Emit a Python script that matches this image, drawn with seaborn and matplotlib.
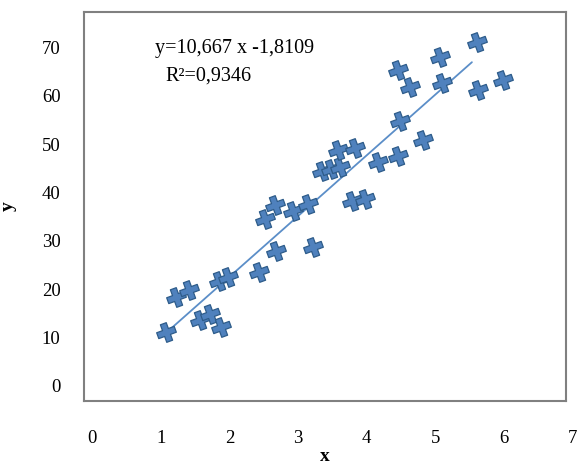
import numpy as np
import pandas as pd
import matplotlib
matplotlib.use("Agg")
import matplotlib.pyplot as plt
from matplotlib.markers import MarkerStyle
from matplotlib.transforms import Affine2D
import seaborn as sns

sns.set_style("white")
plt.rcParams['font.family'] = ['Liberation Serif', 'DejaVu Serif']
plt.rcParams['text.color'] = 'black'
plt.rcParams['axes.labelcolor'] = 'black'
plt.rcParams['xtick.color'] = 'black'
plt.rcParams['ytick.color'] = 'black'

x_vals = [1.08, 1.22, 1.41, 1.57, 1.72, 1.88, 1.85, 1.98, 2.43, 2.52, 2.66,
          2.68, 2.93, 3.14, 3.22, 3.35, 3.48, 3.61, 3.58, 3.83, 3.79, 3.97,
          4.16, 4.45, 4.48, 4.82, 4.45, 4.63, 5.07, 5.09, 5.60, 5.62, 5.98]
y_vals = [11.2, 18.4, 19.8, 13.6, 14.9, 12.2, 21.7, 22.5, 23.6, 34.5, 37.4,
          27.9, 36.2, 37.6, 28.7, 44.4, 44.8, 45.2, 48.8, 49.2, 38.2, 38.6,
          46.3, 47.5, 54.8, 50.8, 65.3, 61.8, 68.0, 62.6, 71.1, 61.2, 63.2]
trend_x = [1.16, 5.53]
trend_y = [12.0, 66.9]
x_ticks = [0, 1, 2, 3, 4, 5, 6, 7]
y_ticks = [0, 10, 20, 30, 40, 50, 60, 70]
eq_text = "y=10,667 x -1,8109"
r2_text = "R\u00b2=0,9346"

df = pd.DataFrame({"x": x_vals, "y": y_vals})
tr = pd.DataFrame({"x": trend_x, "y": trend_y})

W, H = 577, 466
fig = plt.figure(figsize=(W / 100, H / 100), dpi=100)

L, R, T, B = 84, 566, 12, 401
ax = fig.add_axes([L / W, (H - B) / H, (R - L) / W, (B - T) / H])

px_per_x = 68.7
x0_px = 92
xmin = (L - x0_px) / px_per_x
xmax = (R - x0_px) / px_per_x
px_per_y = 4.84
y0_px = 386
ymin = (y0_px - B) / px_per_y
ymax = (y0_px - T) / px_per_y

blue = "#4F81BD"
edge = "#2E5C8A"

sns.lineplot(data=tr, x="x", y="y", ax=ax, color="#5B8EC8", linewidth=1.3)

mk = MarkerStyle("P", transform=Affine2D().rotate_deg(20))
sns.scatterplot(data=df, x="x", y="y", ax=ax, marker=mk, s=180,
                color=blue, edgecolor=edge, linewidth=0.9, zorder=3)

ax.set_xlim(xmin, xmax)
ax.set_ylim(ymin, ymax)
ax.set_yticks(y_ticks)
ax.set_yticklabels([str(v) for v in y_ticks])
ax.tick_params(axis="y", length=0, pad=17, labelsize=13.5)
ax.set_xticks([])
ax.set_xlabel("")
ax.set_ylabel("y", fontsize=14, fontweight="bold")
ax.yaxis.set_label_coords(-(L - 17) / (R - L), 0.5)
for s in ax.spines.values():
    s.set_color("#808080")
    s.set_linewidth(1.5)

# secondary axes carrying the x tick labels (they extend past the frame)
lab_xmax = 7.1
lab_w = (lab_xmax - xmin) * px_per_x
axl = fig.add_axes([L / W, (H - B) / H, lab_w / W, (B - T) / H], zorder=-1)
axl.patch.set_visible(False)
for s in axl.spines.values():
    s.set_visible(False)
axl.set_xlim(xmin, lab_xmax)
axl.set_xticks(x_ticks)
axl.set_xticklabels([str(v) for v in x_ticks])
axl.tick_params(axis="x", length=0, pad=21, labelsize=13.5)
axl.set_yticks([])
axl.set_xlabel("x", fontsize=14, fontweight="bold")
axl.xaxis.set_label_coords(((L + R) / 2 - L) / lab_w, -(448 - B) / (B - T))

ax.text(0.147, 0.905, eq_text, transform=ax.transAxes, fontsize=14.5,
        ha="left", va="center")
ax.text(0.168, 0.835, r2_text, transform=ax.transAxes, fontsize=14.5,
        ha="left", va="center")

fig.savefig("out.png", dpi=100)
